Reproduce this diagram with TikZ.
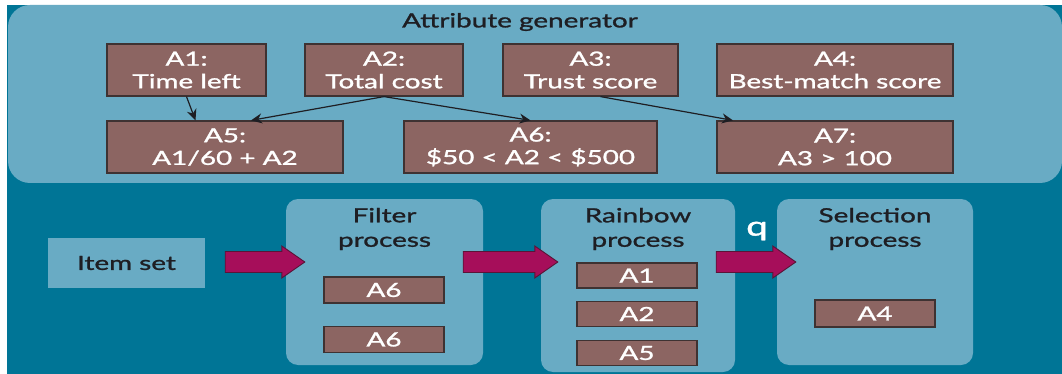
\documentclass[tikz,border=0pt]{standalone}
\usepackage{fontspec}
\setmainfont{Lato}[FakeStretch=1.43,FakeBold=1.3]
\usetikzlibrary{arrows.meta,calc}

\definecolor{deepteal}{RGB}{0,117,150}
\definecolor{paleteal}{RGB}{105,171,196}
\definecolor{attrbrown}{RGB}{140,101,98}
\definecolor{attredge}{RGB}{62,50,50}
\definecolor{flowpink}{RGB}{166,14,90}
\definecolor{flowedge}{RGB}{90,20,55}
\definecolor{inkdark}{RGB}{30,30,35}

\tikzset{
  attr/.style={draw=attredge, line width=1.2pt, fill=attrbrown, text=white,
    align=center, inner sep=0pt, minimum height=52pt,
    font=\fontsize{19.5}{22.6}\selectfont},
  tag/.style={attr, minimum width=120pt, minimum height=26pt},
  panel/.style={fill=paleteal, rounded corners=12pt, inner sep=0pt},
  heading/.style={text=inkdark, align=center, inner sep=0pt,
    font=\fontsize{19.5}{24.5}\selectfont},
  link/.style={draw=inkdark, line width=1.2pt, -{Stealth[length=11pt,width=10pt]}},
  blockflow/.style={fill=flowpink, draw=flowedge, line width=0.9pt,
    to path={let \p1=(\tikztostart), \p2=(\tikztotarget) in
      (\x1,\y1-10.5pt) -- (\x2-23pt,\y1-10.5pt) -- (\x2-23pt,\y1-16pt)
      -- (\x2,\y1) -- (\x2-23pt,\y1+16pt) -- (\x2-23pt,\y1+10.5pt)
      -- (\x1,\y1+10.5pt) -- cycle}},
}

\begin{document}
\begin{tikzpicture}[x=1pt,y=-1pt]
  \useasboundingbox (0,0) rectangle (1062,374);
  \fill[white] (0,0) rectangle (1062,374);
  % dark backdrop and the attribute generator band
  \fill[deepteal] (7,5) rectangle (1062,374);
  \fill[paleteal, rounded corners=22pt] (8,5) rectangle (1062,183);

  \node[heading] (gen) at (520,22) {Attribute generator};

  % attributes
  \node[attr, minimum width=159pt] (A1) at (186.5,70) {A1:\\Time left};
  \node[attr, minimum width=158pt] (A2) at (384,70) {A2:\\Total cost};
  \node[attr, minimum width=175pt] (A3) at (590.5,70) {A3:\\Trust score};
  \node[attr, minimum width=236pt] (A4) at (835,70) {A4:\\Best-match score};
  \node[attr, minimum width=236pt] (A5) at (225,147) {A5:\\A1/60 + A2};
  \node[attr, minimum width=253pt] (A6) at (530.5,147) {A6:\\\$50 < A2 < \$500};
  \node[attr, minimum width=236pt] (A7) at (835,147) {A7:\\A3 > 100};

  % attribute dependencies
  \draw[link] (A1.south) -- ([xshift=9pt]A1.south |- A5.north);
  \draw[link] (A2.south) -- ([xshift=26pt]A5.north);
  \draw[link] (A2.south) -- (A6.north);
  \draw[link] ([xshift=10pt]A3.south) -- ([xshift=-102pt]A7.north);

  % processing pipeline
  \node[panel, minimum width=157pt, minimum height=50pt, rounded corners=0pt,
        text=inkdark, font=\fontsize{19.5}{22}\selectfont] (items) at (126.5,263) {Item set};
  \node[panel, minimum width=197pt, minimum height=166pt] (filter) at (384.5,282) {};
  \node[panel, minimum width=194pt, minimum height=173pt] (rainbow) at (638,285.5) {};
  \node[panel, minimum width=196pt, minimum height=166pt] (select) at (875,282) {};

  \node[heading] (filterT) at (384.5,229) {Filter\\process};
  \node[heading] (rainbowT) at (638,229) {Rainbow\\process};
  \node[heading] (selectT) at (875,229) {Selection\\process};

  \node[tag] (fA6a) at (384,290) {A6};
  \node[tag] (fA6b) at (384,339.5) {A6};
  \node[tag, minimum height=25pt] (rA1) at (637,275.5) {A1};
  \node[tag, minimum height=25pt] (rA2) at (637,314) {A2};
  \node[tag, minimum height=25pt] (rA5) at (637,353) {A5};
  \node[tag, minimum height=27pt] (sA4) at (875,313.5) {A4};

  \draw[blockflow] ([xshift=20pt,yshift=1pt]items.east) to ([xshift=19pt,yshift=1pt]items.east -| filter.west);
  \draw[blockflow] ([xshift=-20pt,yshift=1pt]filter.east |- items.east) to ([xshift=17pt,yshift=1pt]items.east -| rainbow.west);
  \draw[blockflow] ([xshift=-19pt,yshift=1pt]rainbow.east |- items.east) to ([xshift=19pt,yshift=1pt]items.east -| select.west);

  \node[text=white, inner sep=0pt, font=\fontsize{27}{28}\selectfont] (q) at (757,231) {q};
\end{tikzpicture}
\end{document}
